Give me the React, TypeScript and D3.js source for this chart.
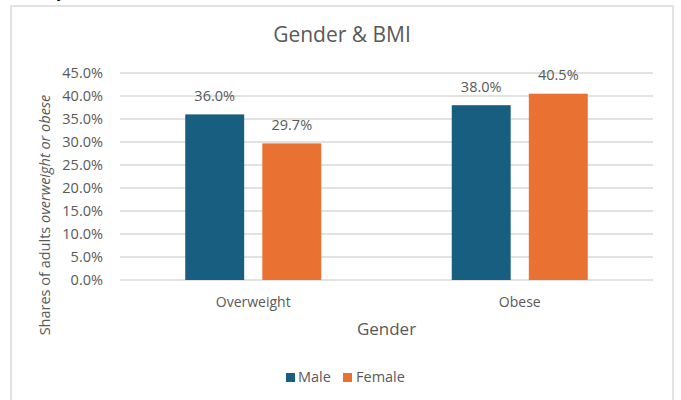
import React from "react";
import * as d3 from "d3";

const categories = ["Overweight", "Obese"];
const seriesNames = ["Male", "Female"];
const maleValues = [36.0, 38.0];
const femaleValues = [29.7, 40.5];
const yTicks = [0, 5, 10, 15, 20, 25, 30, 35, 40, 45];
const colors = ["#175E80", "#E97132"];

const W = 681;
const H = 400;
const FONT = "'Open Sans', sans-serif";
const GRAY = "#595959";

export default function App() {
  const plot = { left: 120, right: 653, top: 73, bottom: 280 };
  const x0 = d3
    .scaleBand<string>()
    .domain(categories)
    .range([plot.left, plot.right])
    .paddingInner(0)
    .paddingOuter(0);
  const groupW = 136;
  const x1 = d3
    .scaleBand<string>()
    .domain(seriesNames)
    .range([0, groupW])
    .paddingInner(16 / 68)
    .paddingOuter(0);
  const y = d3.scaleLinear().domain([0, 45]).range([plot.bottom, plot.top]);
  const series = [maleValues, femaleValues];

  return (
    <svg
      width={W}
      height={H}
      style={{ position: "absolute", left: 0, top: 0, background: "#fff" }}
      fontFamily={FONT}
    >
      <text x={57} y={-3} fontSize={16} fill="#000">y</text>
      <rect x={11} y={6} width={662} height={420} fill="#fff" stroke="#d9d9d9" strokeWidth={1.5} />
      <text x={342} y={42} textAnchor="middle" fontSize={21} fill={GRAY}>
        Gender &amp; BMI
      </text>
      {yTicks.map((t) => (
        <g key={t}>
          <line x1={plot.left} x2={plot.right} y1={y(t)} y2={y(t)} stroke="#d9d9d9" strokeWidth={1.3} />
          <text x={103} y={y(t)} dy="0.35em" textAnchor="end" fontSize={14.5} fill={GRAY}>
            {t.toFixed(1)}%
          </text>
        </g>
      ))}
      {categories.map((c, ci) => {
        const gx = (x0(c) as number) + (x0.bandwidth() - groupW) / 2;
        return (
          <g key={c}>
            {seriesNames.map((s, si) => {
              const v = series[si][ci];
              const bx = gx + (x1(s) as number);
              return (
                <g key={s}>
                  <rect x={bx} y={y(v)} width={x1.bandwidth()} height={y(0) - y(v)} fill={colors[si]} />
                  <text x={bx + x1.bandwidth() / 2} y={y(v) - 13.5} textAnchor="middle" fontSize={14.5} fill={GRAY}>
                    {v.toFixed(1)}%
                  </text>
                </g>
              );
            })}
            <text x={(x0(c) as number) + x0.bandwidth() / 2} y={307} textAnchor="middle" fontSize={14} fill={GRAY}>
              {c}
            </text>
          </g>
        );
      })}
      <text x={(plot.left + plot.right) / 2} y={335} textAnchor="middle" fontSize={17} fill={GRAY}>
        Gender
      </text>
      <text
        transform={`translate(50, 215) rotate(-90)`}
        textAnchor="middle"
        fontSize={14.5}
        fill={GRAY}
      >
        Shares of adults <tspan fontStyle="italic">overweight or obese</tspan>
      </text>
      <g>
        <rect x={286} y={373} width={9} height={9} fill={colors[0]} />
        <text x={298} y={382} fontSize={14.5} fill={GRAY}>Male</text>
        <rect x={343} y={373} width={9} height={9} fill={colors[1]} />
        <text x={356} y={382} fontSize={14.5} fill={GRAY}>Female</text>
      </g>
    </svg>
  );
}
